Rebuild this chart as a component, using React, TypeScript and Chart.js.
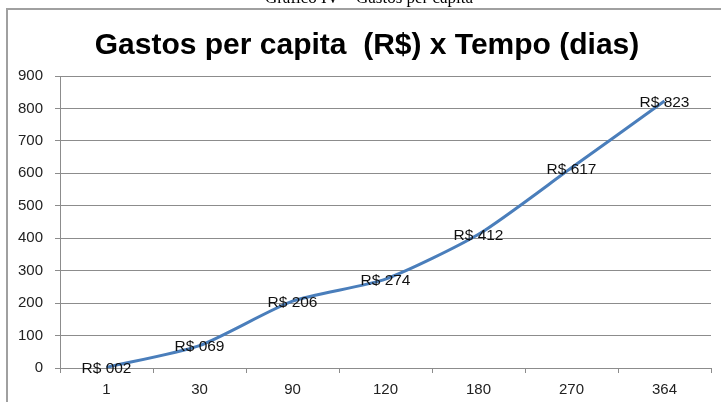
import React, { useEffect, useRef } from "react";
import { Chart, registerables } from "chart.js";

Chart.register(...registerables);

const categories = ["1", "30", "90", "120", "180", "270", "364"];
const gastos = [2, 69, 206, 274, 412, 617, 823];
const dataLabels = ["R$ 002", "R$ 069", "R$ 206", "R$ 274", "R$ 412", "R$ 617", "R$ 823"];
const chartTitle = "Gastos per capita  (R$) x Tempo (dias)";
const caption = "Gráfico IV – Gastos per capita";

const FONT = "'Liberation Sans', Arial, sans-serif";

const decorPlugin = {
  id: "decor",
  beforeDraw(chart: any) {
    const ctx = chart.ctx;
    ctx.save();
    ctx.fillStyle = "#ffffff";
    ctx.fillRect(0, 0, chart.width, chart.height);
    // caption (cut off at top)
    ctx.fillStyle = "#000";
    ctx.font = "17px 'Liberation Serif', 'Times New Roman', serif";
    ctx.textAlign = "center";
    ctx.textBaseline = "alphabetic";
    ctx.fillText(caption, 369, 3);
    // frame
    ctx.strokeStyle = "#a0a0a0";
    ctx.lineWidth = 2;
    ctx.beginPath();
    ctx.moveTo(7, chart.height + 2);
    ctx.lineTo(7, 9);
    ctx.lineTo(chart.width + 2, 9);
    ctx.stroke();
    // title
    ctx.fillStyle = "#000";
    ctx.font = "bold 30px " + FONT;
    ctx.textAlign = "center";
    ctx.fillText(chartTitle, 367, 54);
    ctx.restore();
  },
  afterDatasetsDraw(chart: any) {
    const ctx = chart.ctx;
    const meta = chart.getDatasetMeta(0);
    ctx.save();
    ctx.fillStyle = "#111";
    ctx.font = "15.5px " + FONT;
    ctx.textAlign = "center";
    ctx.textBaseline = "middle";
    meta.data.forEach((el: any, i: number) => {
      ctx.fillText(dataLabels[i], el.x, el.y + 1.5);
    });
    ctx.restore();
  },
};

export default function App() {
  const ref = useRef<HTMLCanvasElement | null>(null);
  useEffect(() => {
    if (!ref.current) return;
    const chart = new Chart(ref.current, {
      type: "line",
      data: {
        labels: categories,
        datasets: [
          {
            data: gastos,
            borderColor: "#4a7ebb",
            borderWidth: 3,
            pointRadius: 0,
            tension: 0.22,
            fill: false,
          },
        ],
      },
      options: {
        animation: false,
        responsive: false,
        devicePixelRatio: 1,
        layout: { padding: { left: 0, right: 10, top: 76, bottom: 0 } },
        plugins: {
          legend: { display: false },
          title: { display: false },
          tooltip: { enabled: false },
        },
        scales: {
          x: {
            offset: true,
            grid: {
              offset: true,
              drawOnChartArea: false,
              drawTicks: true,
              tickLength: 5,
              color: "#8c8c8c",
            },
            border: { color: "#8c8c8c", width: 1 },
            ticks: {
              color: "#222",
              font: { family: FONT, size: 15 },
              padding: 8,
              maxRotation: 0,
            },
            afterFit(scale: any) {
              scale.height = 34;
            },
          },
          y: {
            min: 0,
            max: 900,
            ticks: {
              stepSize: 100,
              color: "#222",
              font: { family: FONT, size: 15 },
              padding: 12,
            },
            grid: {
              color: "#8c8c8c",
              tickLength: 5,
            },
            border: { color: "#8c8c8c", width: 1 },
            afterFit(scale: any) {
              scale.width = 60;
            },
          },
        },
      },
      plugins: [decorPlugin],
    });
    return () => chart.destroy();
  }, []);
  return (
    <div style={{ position: "fixed", left: 0, top: 0, width: 721, height: 402, background: "#fff" }}>
      <canvas ref={ref} width={721} height={402} style={{ display: "block" }} />
    </div>
  );
}
